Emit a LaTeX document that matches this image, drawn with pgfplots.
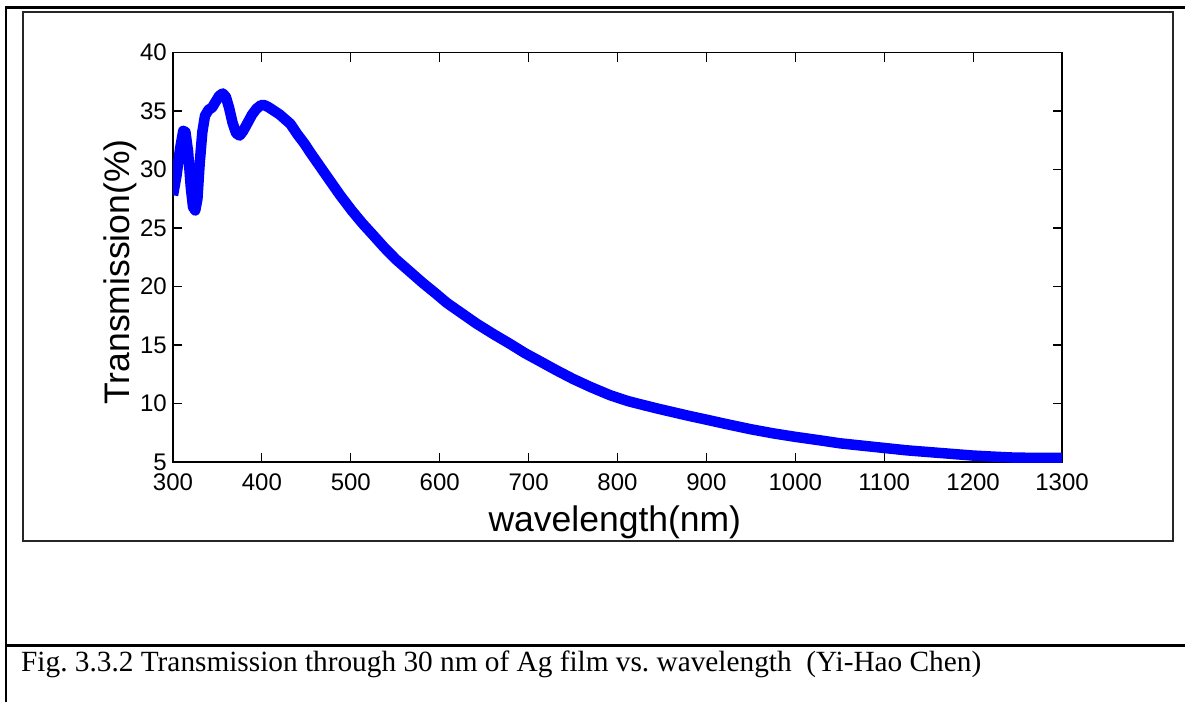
\documentclass[border=0pt]{standalone}
\usepackage{pgfplots}
\pgfplotsset{compat=1.18}
\usepackage{fontspec}
\setmainfont{Liberation Sans}
\newfontfamily\capfont{Liberation Serif}
\frenchspacing
\begin{document}
\begin{tikzpicture}
\useasboundingbox (0pt,0pt) rectangle (1185pt,-702pt);
% page frame lines
\draw[line width=3pt] (5pt,-7.5pt) -- (1185pt,-7.5pt);
\draw[line width=2.4pt] (6.2pt,-6pt) -- (6.2pt,-702pt);
\draw[line width=3pt] (6pt,-645.7pt) -- (1185pt,-645.7pt);
% figure box
\draw[line width=2pt, black!85] (23pt,-11.8pt) rectangle (1173pt,-541.3pt);
\begin{axis}[
  at={(173pt,-52.5pt)}, anchor=north west,
  width=889pt, height=409.5pt, scale only axis,
  xmin=300, xmax=1300, ymin=5, ymax=40,
  xtick={300,400,...,1300}, ytick={5,10,...,40},
  tick align=inside, major tick length=9pt,
  axis line style={line width=1.3pt},
  every tick/.style={line width=1.1pt, black},
  scaled ticks=false,
  /pgf/number format/1000 sep={},
  /pgf/number format/assume math mode=true,
  ticklabel style={font=\fontsize{24}{28}\selectfont},
  xticklabel style={anchor=north, inner sep=0pt, yshift=-12pt},
  yticklabel style={anchor=east, inner sep=0pt, xshift=-6pt},
  xlabel={wavelength(nm)},
  ylabel={Transmission(\%)},
  xlabel style={at={(axis description cs:0.497,-0.1685)}, anchor=base, inner sep=0pt, font=\fontsize{35.5}{40}\selectfont},
  ylabel style={at={(axis description cs:-0.0484,0.464)}, anchor=base, inner sep=0pt, font=\fontsize{35.5}{40}\selectfont},
]
\addplot[color={rgb,255:red,0;green,0;blue,255}, line width=10.5pt, line join=round, no marks] coordinates {
(300,27.8) (304,29.5) (308,31.8) (311.5,33.3) (314,33.2) (317,31.5) (320,28.5)
(322.5,26.8) (325,26.5) (327.5,27.5) (330,30.5) (333,33.2) (336,34.6) (340,35.1)
(344,35.3) (348,35.8) (352,36.3) (356,36.5) (359.5,36.2) (363,35.3) (367,34.0)
(371,33.1) (375,32.9) (379,33.3) (384,34.0) (389,34.7) (394,35.2) (399,35.5)
(403,35.5) (408,35.3) (414,35.0) (420,34.7) (426,34.3) (432,33.9) (440,33.0)
(448,32.2) (454,31.5) (465,30.3) (476,29.1) (488,27.8) (501,26.5) (513,25.4)
(525,24.4) (538,23.3) (551,22.3) (566,21.3) (581,20.3) (594,19.5) (608,18.6)
(625,17.7) (641,16.85) (660,15.95) (679,15.1) (696,14.3) (713,13.6) (731,12.85)
(750,12.1) (770,11.4) (792,10.7) (812,10.2) (830,9.85) (846,9.55) (863,9.25)
(880,8.95) (900,8.62) (925,8.2) (950,7.8) (975,7.45) (1000,7.15) (1028,6.85)
(1050,6.6) (1075,6.4) (1100,6.2) (1125,6.0) (1150,5.85) (1175,5.7) (1200,5.55)
(1225,5.45) (1245,5.38) (1270,5.35) (1300,5.35)
};
\end{axis}
\node[anchor=base west, inner sep=0pt] at (21pt,-671pt)
  {\capfont\fontsize{29.3}{34}\selectfont Fig. 3.3.2 Transmission through 30 nm of Ag film vs. wavelength\ \ (Yi-Hao Chen)};
\end{tikzpicture}
\end{document}
